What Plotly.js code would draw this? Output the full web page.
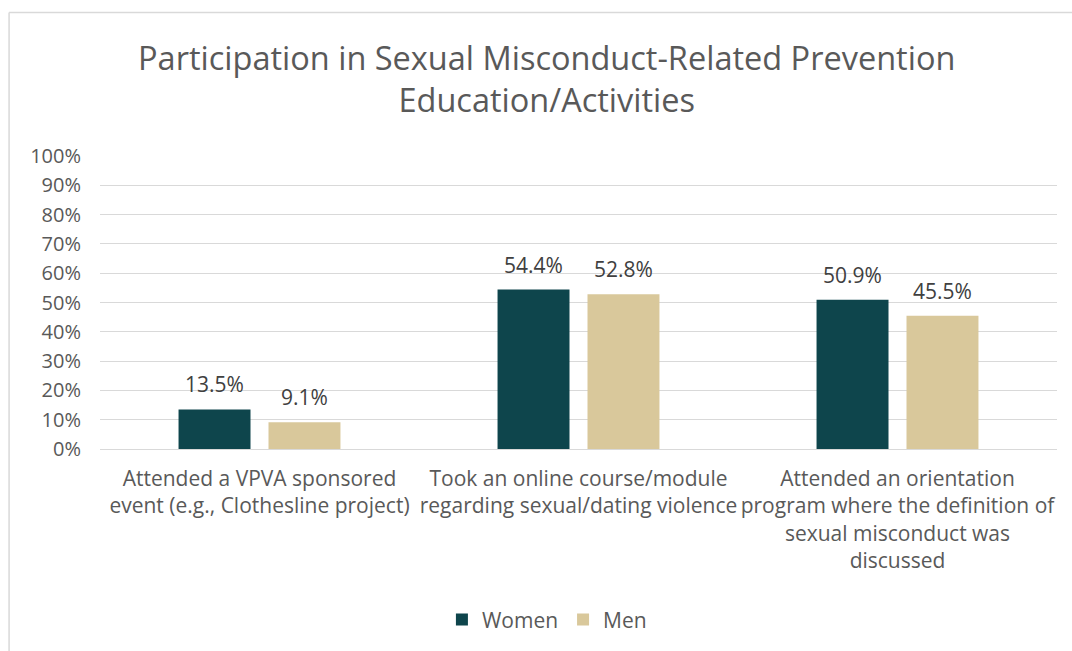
<!DOCTYPE html>
<html><head><meta charset="utf-8">
<script src="https://cdn.plot.ly/plotly-3.0.1.min.js"></script>
<style>html,body{margin:0;padding:0;background:#fff;}#chart{width:1072px;height:651px;}</style>
</head><body><div id="chart"></div>
<script>
const categories = [
  "Attended a VPVA sponsored<br>event (e.g., Clothesline project)",
  "Took an online course/module<br>regarding sexual/dating violence",
  "Attended an orientation<br>program where the definition of<br>sexual misconduct was<br>discussed"
];
const women = [13.5, 54.4, 50.9];
const men = [9.1, 52.8, 45.5];
const seriesNames = ["Women", "Men"];
const tickVals = [0,10,20,30,40,50,60,70,80,90,100];
const tickText = tickVals.map(v => v + "%");

const FONT = "Open Sans, sans-serif";
const mk = (vals, name, color) => ({
  type: "bar", x: categories, y: vals, name: name,
  marker: {color: color},
  hoverinfo: "none"
});
const data = [mk(women, seriesNames[0], "#0E454C"), mk(men, seriesNames[1], "#D9C89B")];

const annotations = [];
[[women, -45], [men, 45]].forEach(([vals, dx]) => {
  vals.forEach((v, i) => annotations.push({
    x: categories[i], y: v, xref: "x", yref: "y", text: v.toFixed(1) + "%",
    showarrow: false, xshift: dx, yshift: 9, yanchor: "bottom",
    font: {family: FONT, size: 21, color: "#404040"}
  }));
});

const layout = {
  width: 1072, height: 651,
  margin: {l: 100, r: 15, t: 156, b: 201},
  paper_bgcolor: "#fff", plot_bgcolor: "#fff",
  title: {text: "Participation in Sexual Misconduct-Related Prevention<br>Education/Activities",
    font: {family: FONT, size: 32.5, color: "#595959"}, x: 0.51, xanchor: "center", y: 0.893, yanchor: "top"},
  barmode: "group", bargap: 0.436, bargroupgap: 0.2,
  xaxis: {tickfont: {family: FONT, size: 21, color: "#595959"}, showgrid: false, showline: false, ticks: "",
    ticklabelstandoff: 15, automargin: false},
  yaxis: {range: [0, 100], tickvals: tickVals, ticktext: tickText, showgrid: true, gridcolor: "#D9D9D9", gridwidth: 1,
    zeroline: true, zerolinecolor: "#D9D9D9", zerolinewidth: 1,
    tickfont: {family: FONT, size: 20, color: "#595959"}, ticks: "", ticklabelstandoff: 18, automargin: false},
  legend: {orientation: "h", x: 0.467, xanchor: "center", y: -0.578, yanchor: "middle",
    font: {family: FONT, size: 21, color: "#595959"}, itemwidth: 30, traceorder: "normal"},
  annotations: annotations,
  shapes: [
    {type: "line", xref: "paper", yref: "paper", x0: -0.095, x1: 1.02, y0: 1.49, y1: 1.49, line: {color: "#D9D9D9", width: 1.5}},
    {type: "line", xref: "paper", yref: "paper", x0: -0.095, x1: -0.095, y0: 1.49, y1: -0.7, line: {color: "#D9D9D9", width: 1.5}}
  ]
};
Plotly.newPlot("chart", data, layout, {displayModeBar: false, staticPlot: true});
</script></body></html>
